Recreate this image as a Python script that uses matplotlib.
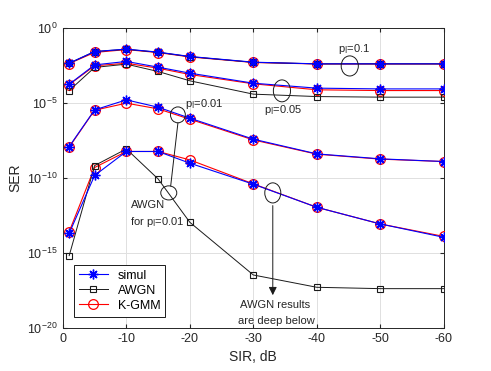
import numpy as np
import matplotlib
matplotlib.use("Agg")
import matplotlib.pyplot as plt
from matplotlib.patches import Ellipse
from matplotlib.ticker import FixedLocator

plt.rcParams['font.family'] = ['Liberation Sans', 'DejaVu Sans']
plt.rcParams['mathtext.default'] = 'regular'
plt.rcParams['axes.unicode_minus'] = False

sir = [-1, -5, -10, -15, -20, -30, -40, -50, -60]

# log10(SER) values
simul_p01 = [-2.36, -1.58, -1.42, -1.62, -1.91, -2.29, -2.40, -2.40, -2.40]
kgmm_p01 = [-2.38, -1.64, -1.45, -1.65, -1.94, -2.31, -2.41, -2.41, -2.41]
awgn_p01 = [-2.36, -1.58, -1.43, -1.63, -1.92, -2.30, -2.40, -2.40, -2.40]

simul_p005 = [-3.76, -2.47, -2.24, -2.62, -3.02, -3.69, -4.02, -4.07, -4.07]
kgmm_p005 = [-3.78, -2.53, -2.36, -2.69, -3.11, -3.73, -4.13, -4.18, -4.18]
awgn_p005 = [-4.18, -2.64, -2.42, -2.91, -3.53, -4.42, -4.58, -4.62, -4.62]

simul_p001 = [-7.91, -5.47, -4.80, -5.29, -6.02, -7.42, -8.40, -8.73, -8.91]
kgmm_p001 = [-7.95, -5.49, -5.02, -5.40, -6.09, -7.47, -8.42, -8.75, -8.91]

simul_low = [-13.69, -9.84, -8.24, -8.24, -9.02, -10.42, -11.96, -13.07, -13.96]
kgmm_low = [-13.58, -9.31, -8.24, -8.24, -8.80, -10.40, -11.96, -13.07, -13.90]
awgn_low = [-15.18, -9.18, -8.07, -10.07, -12.96, -16.47, -17.29, -17.38, -17.38]

fig = plt.figure(figsize=(4.91, 3.71), dpi=100)
ax = fig.add_axes([0.128, 0.116, 0.776, 0.809])

blue = (0.0, 0.0, 1.0)
red = (1.0, 0.0, 0.0)
black = (0.1, 0.1, 0.1)

def p(v):
    return 10.0 ** np.array(v)

kw_k = dict(color=red, marker='o', ms=7, mfc='none', mec=red, lw=0.8, mew=0.9, zorder=3)
kw_a = dict(color=black, marker='s', ms=5, mfc='none', mec=black, lw=0.7, mew=0.8, zorder=4)
kw_s = dict(color=blue, marker=(8, 2, 0), ms=7, lw=0.8, mew=1.0, zorder=5)

for yk in (kgmm_p01, kgmm_p005, kgmm_p001, kgmm_low):
    lk, = ax.semilogy(sir, p(yk), **kw_k)
for ya in (awgn_p01, awgn_p005, awgn_low):
    la, = ax.semilogy(sir, p(ya), **kw_a)
for ys in (simul_p01, simul_p005, simul_p001, simul_low):
    ls, = ax.semilogy(sir, p(ys), **kw_s)

ax.set_xlim(0, -60)
ax.set_ylim(1e-20, 1)
ax.xaxis.set_major_locator(FixedLocator([0, -10, -20, -30, -40, -50, -60]))
ax.yaxis.set_major_locator(FixedLocator([1e-20, 1e-15, 1e-10, 1e-5, 1]))
ax.yaxis.set_minor_locator(FixedLocator([]))
ax.grid(True, which='major', color=(0.88, 0.88, 0.88), lw=0.7)
ax.set_axisbelow(True)
ax.tick_params(direction='in', labelsize=9, colors=(0.15, 0.15, 0.15), top=True, right=True, length=3)
ax.tick_params(which='minor', length=0)
for s in ax.spines.values():
    s.set_color((0.15, 0.15, 0.15))
    s.set_linewidth(0.7)
ax.set_xlabel('SIR, dB', fontsize=10, color=(0.15, 0.15, 0.15))
ax.set_ylabel('SER', fontsize=10, color=(0.15, 0.15, 0.15))

leg = ax.legend([ls, la, lk], ['simul', 'AWGN', 'K-GMM'], loc='lower left',
                bbox_to_anchor=(0.029, 0.037), borderaxespad=0, fontsize=9, fancybox=False,
                edgecolor=black, framealpha=1, handlelength=2.3, borderpad=0.4,
                labelspacing=0.25)
leg.get_frame().set_linewidth(0.7)

T = ax.transAxes
def ell(x, y, w, h):
    ax.add_patch(Ellipse((x, y), w, h, transform=T, fill=False, ec=black, lw=0.7, zorder=6))

ell(0.753, 0.873, 0.045, 0.067)
ell(0.575, 0.790, 0.045, 0.073)
ell(0.302, 0.710, 0.039, 0.053)
ell(0.278, 0.450, 0.042, 0.047)
ell(0.551, 0.450, 0.042, 0.067)

ax.plot([0.302, 0.283], [0.683, 0.473], transform=T, color=black, lw=0.7, zorder=6)
ax.annotate('', xy=(0.551, 0.100), xytext=(0.551, 0.417), xycoords=T, textcoords=T,
            arrowprops=dict(arrowstyle='-|>', color=black, lw=0.7, mutation_scale=12), zorder=6)

tc = (0.15, 0.15, 0.15)
fs = 8
ax.text(0.722, 0.930, r'p$_\mathrm{I}$=0.1', transform=T, fontsize=fs, va='center', color=tc)
ax.text(0.528, 0.727, r'p$_\mathrm{I}$=0.05', transform=T, fontsize=fs, va='center', color=tc)
ax.text(0.320, 0.747, r'p$_\mathrm{I}$=0.01', transform=T, fontsize=fs, va='center', color=tc)
ax.text(0.180, 0.410, 'AWGN', transform=T, fontsize=fs, va='center', color=tc)
ax.text(0.176, 0.353, r'for p$_\mathrm{I}$=0.01', transform=T, fontsize=fs, va='center', color=tc)
ax.text(0.556, 0.077, 'AWGN results', transform=T, fontsize=fs, va='center', ha='center', color=tc)
ax.text(0.560, 0.023, 'are deep below', transform=T, fontsize=fs, va='center', ha='center', color=tc)

fig.savefig('out.png', dpi=100)
